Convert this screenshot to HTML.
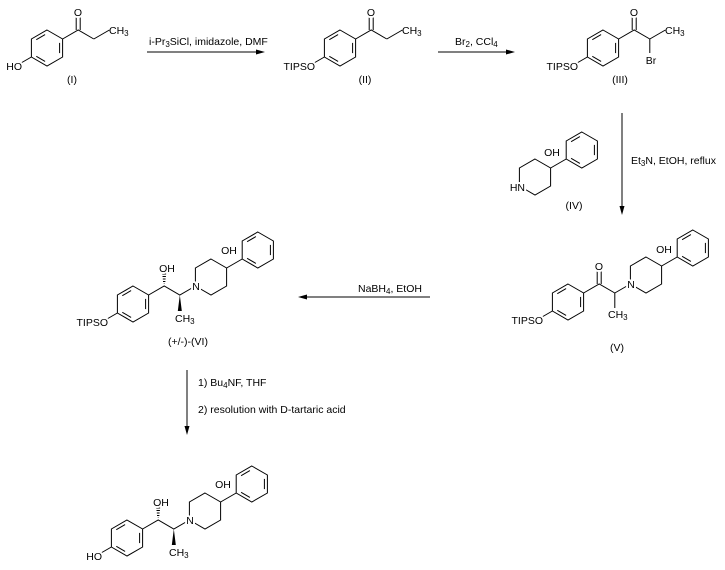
<!DOCTYPE html>
<html><head><meta charset="utf-8"><style>
html,body{margin:0;padding:0;background:#fff}
svg{display:block}
text{font-family:"Liberation Sans",Arial,sans-serif;font-size:10.5px;fill:#000}
.h{stroke:#fff;stroke-width:4px;paint-order:stroke;stroke-linejoin:round}
line,polyline,polygon.b{stroke:#000;stroke-width:1;fill:none}
</style></head><body>
<svg width="725" height="570" viewBox="0 0 725 570" xmlns="http://www.w3.org/2000/svg">
<defs>
<g id="bz">
<polygon class="b" points="0,-18 15.6,-9 15.6,9 0,18 -15.6,9 -15.6,-9"/>
<line x1="-10.7" y1="-8.3" x2="-1.9" y2="-13.4"/>
<line x1="12.6" y1="-5.1" x2="12.6" y2="5.1"/>
<line x1="-1.9" y1="13.4" x2="-10.7" y2="8.3"/>
</g>
<polygon id="hx" class="b" points="0,-18 15.6,-9 15.6,9 0,18 -15.6,9 -15.6,-9"/>
<g id="ak">
<use href="#bz"/>
<polyline points="-31.2,18 -15.6,9"/>
<polyline points="15.6,-9 31.2,-18 46.8,-9"/>
<line x1="29.2" y1="-18" x2="29.2" y2="-33"/>
<line x1="33.2" y1="-18" x2="33.2" y2="-33"/>
</g>
<g id="aa">
<use href="#bz"/>
<polyline points="-31.2,18 -15.6,9"/>
<polyline points="15.6,-9 31.2,-18 46.8,-9 62.4,-18"/>
<line x1="31.2" y1="-20" x2="31.2" y2="-20.5"/>
<line x1="30" y1="-22.5" x2="32.4" y2="-22.5"/>
<line x1="29.8" y1="-25" x2="32.6" y2="-25"/>
<line x1="29.5" y1="-27.5" x2="32.9" y2="-27.5"/>
<line x1="29.3" y1="-30" x2="33.1" y2="-30"/>
<polygon points="46.8,-9 44.8,7 48.8,7" fill="#000"/>
<use href="#hx" x="78" y="-27"/>
<line x1="93.6" y1="-36" x2="109.2" y2="-45"/>
<use href="#bz" x="124.8" y="-54"/>
</g>
</defs>

<g transform="translate(47,48)"><use href="#ak"/><line x1="46.8" y1="-9" x2="62.4" y2="-18"/></g>
<text x="78" y="16" text-anchor="middle" class="h">O</text>
<text x="109" y="34">CH<tspan font-size="8" dy="2">3</tspan></text>
<text x="22" y="70" text-anchor="end" class="h">HO</text>
<text x="72" y="83" text-anchor="middle">(I)</text>

<line x1="147" y1="52" x2="262" y2="52"/>
<polygon points="265,52 256,49.5 256,54.5" fill="#000"/>
<text x="149" y="45">i-Pr<tspan font-size="8" dy="2">3</tspan><tspan dy="-2">SiCl, imidazole, DMF</tspan></text>

<g transform="translate(340,48)"><use href="#ak"/><line x1="46.8" y1="-9" x2="62.4" y2="-18"/></g>
<text x="371" y="16" text-anchor="middle" class="h">O</text>
<text x="402" y="34">CH<tspan font-size="8" dy="2">3</tspan></text>
<text x="315" y="70" text-anchor="end" class="h">TIPSO</text>
<text x="365" y="83" text-anchor="middle">(II)</text>

<line x1="438" y1="52" x2="512" y2="52"/>
<polygon points="515,52 506,49.5 506,54.5" fill="#000"/>
<text x="455" y="45">Br<tspan font-size="8" dy="2">2</tspan><tspan dy="-2">, CCl</tspan><tspan font-size="8" dy="2">4</tspan></text>

<g transform="translate(603,48)"><use href="#ak"/><line x1="46.8" y1="-9" x2="62.4" y2="-18"/><line x1="46.8" y1="-9" x2="46.8" y2="5"/></g>
<text x="634" y="16" text-anchor="middle" class="h">O</text>
<text x="665" y="34">CH<tspan font-size="8" dy="2">3</tspan></text>
<text x="651" y="64" text-anchor="middle" class="h">Br</text>
<text x="578" y="70" text-anchor="end" class="h">TIPSO</text>
<text x="620" y="83" text-anchor="middle">(III)</text>

<line x1="622" y1="113" x2="622" y2="212"/>
<polygon points="622,215 619.5,206 624.5,206" fill="#000"/>
<text x="631" y="164">Et<tspan font-size="8" dy="2">3</tspan><tspan dy="-2">N, EtOH, reflux</tspan></text>

<use href="#hx" x="535" y="177"/>
<line x1="550.6" y1="168" x2="566.2" y2="159"/>
<use href="#bz" x="581.8" y="150"/>
<text x="552" y="156" text-anchor="middle" class="h">OH</text>
<text x="525" y="191" text-anchor="end" class="h">HN</text>
<text x="574" y="209" text-anchor="middle">(IV)</text>

<g transform="translate(568,302)"><use href="#ak"/>
<line x1="46.8" y1="-9" x2="62.4" y2="-18"/>
<line x1="46.8" y1="-9" x2="46.8" y2="6"/>
<use href="#hx" x="78" y="-27"/>
<line x1="93.6" y1="-36" x2="109.2" y2="-45"/>
<use href="#bz" x="124.8" y="-54"/>
</g>
<text x="599" y="270" text-anchor="middle" class="h">O</text>
<text x="631" y="288" text-anchor="middle" class="h">N</text>
<text x="608" y="318">CH<tspan font-size="8" dy="2">3</tspan></text>
<text x="664" y="253" text-anchor="middle" class="h">OH</text>
<text x="543" y="324" text-anchor="end" class="h">TIPSO</text>
<text x="617" y="351" text-anchor="middle">(V)</text>

<line x1="430" y1="297" x2="301" y2="297"/>
<polygon points="298,297 307,294.5 307,299.5" fill="#000"/>
<text x="358" y="292">NaBH<tspan font-size="8" dy="2">4</tspan><tspan dy="-2">, EtOH</tspan></text>

<g transform="translate(133,304)"><use href="#aa"/></g>
<text x="167" y="272" text-anchor="middle" class="h">OH</text>
<text x="196" y="290" text-anchor="middle" class="h">N</text>
<text x="175" y="322">CH<tspan font-size="8" dy="2">3</tspan></text>
<text x="229" y="254" text-anchor="middle" class="h">OH</text>
<text x="108" y="326" text-anchor="end" class="h">TIPSO</text>
<text x="188" y="345" text-anchor="middle">(+/-)-(VI)</text>

<line x1="187" y1="370" x2="187" y2="432"/>
<polygon points="187,435 184.5,426 189.5,426" fill="#000"/>
<text x="198" y="386">1) Bu<tspan font-size="8" dy="2">4</tspan><tspan dy="-2">NF, THF</tspan></text>
<text x="198" y="413">2) resolution with D-tartaric acid</text>

<g transform="translate(127,538)"><use href="#aa"/></g>
<text x="161" y="506" text-anchor="middle" class="h">OH</text>
<text x="190" y="524" text-anchor="middle" class="h">N</text>
<text x="169" y="556">CH<tspan font-size="8" dy="2">3</tspan></text>
<text x="223" y="488" text-anchor="middle" class="h">OH</text>
<text x="102" y="560" text-anchor="end" class="h">HO</text>
</svg>
</body></html>
